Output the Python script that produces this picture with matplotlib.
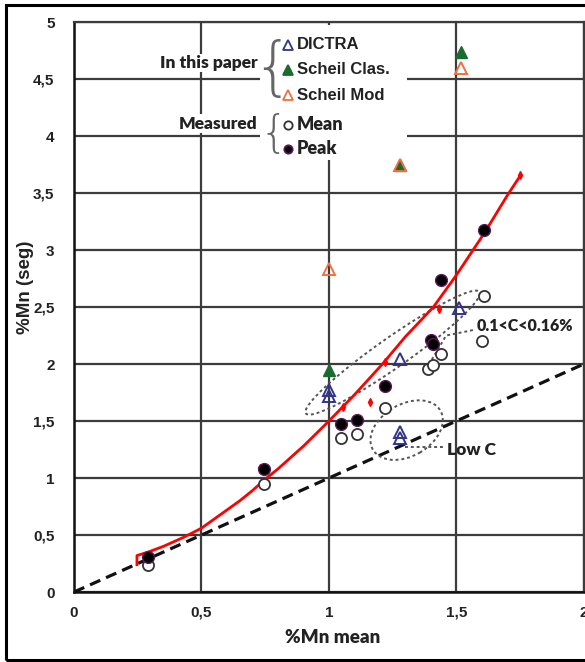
#!/usr/bin/env python3
#%%
import numpy as np
import matplotlib
matplotlib.use('Agg')
from matplotlib import pyplot as plt
from matplotlib.patches import Ellipse, Rectangle
from matplotlib.transforms import Affine2D

#%% data
dictra_x = [1.00, 1.00, 1.28, 1.28, 1.28, 1.51]
dictra_y = [1.77, 1.72, 2.04, 1.40, 1.35, 2.49]
clas_x = [1.00, 1.28, 1.52]
clas_y = [1.95, 3.75, 4.74]
mod_x = [1.00, 1.28, 1.52]
mod_y = [2.83, 3.75, 4.60]
mean_x = [0.29, 0.745, 1.047, 1.11, 1.22, 1.39, 1.41, 1.44, 1.61, 1.60]
mean_y = [0.24, 0.95, 1.35, 1.39, 1.61, 1.96, 1.99, 2.09, 2.60, 2.20]
peak_x = [0.29, 0.745, 1.047, 1.11, 1.22, 1.40, 1.41, 1.44, 1.61]
peak_y = [0.31, 1.08, 1.47, 1.51, 1.81, 2.21, 2.18, 2.74, 3.18]
fit_x = [0.247, 0.247, 0.29, 0.35, 0.43, 0.50, 0.55, 0.60, 0.65, 0.70, 0.75, 0.80, 0.90,
         1.00, 1.10, 1.21, 1.30, 1.41, 1.50, 1.61, 1.70, 1.75]
fit_y = [0.24, 0.32, 0.35, 0.40, 0.48, 0.56, 0.64, 0.72, 0.80, 0.89, 0.99, 1.08, 1.28,
         1.50, 1.73, 2.00, 2.24, 2.50, 2.78, 3.15, 3.48, 3.65]
fitpts_x = [0.73, 1.055, 1.16, 1.22, 1.43, 1.75]
fitpts_y = [1.09, 1.62, 1.67, 2.02, 2.48, 3.66]
xticks = [0, 0.5, 1, 1.5, 2]
xticklabels = ['0', '0,5', '1', '1,5', '2']
yticks = [0, 0.5, 1, 1.5, 2, 2.5, 3, 3.5, 4, 4.5, 5]
yticklabels = ['0', '0,5', '1', '1,5', '2', '2,5', '3', '3,5', '4', '4,5', '5']

plt.rcParams['font.family'] = ['Liberation Sans', 'DejaVu Sans']
nar = dict(family=['Lato', 'DejaVu Sans'], fontweight='heavy')

#%% figure
fig = plt.figure(figsize=(5.85, 6.62), dpi=100)
ax = fig.add_axes([0.1265, 0.1057, 0.8715, 0.861])
ax.set_xlim(0, 2)
ax.set_ylim(0, 5)
ax.set_axisbelow(True)
ax.grid(color='#3c3c3c', lw=1.6)
for s in ['left', 'bottom']:
    ax.spines[s].set_color('#111111')
    ax.spines[s].set_linewidth(1.8)
for s in ['top', 'right']:
    ax.spines[s].set_color('#3c3c3c')
    ax.spines[s].set_linewidth(1.6)
ax.set_xticks(xticks, xticklabels, fontsize=11, fontweight='bold', color='#222222')
ax.set_yticks(yticks, yticklabels, fontsize=11, fontweight='bold', color='#222222')
ax.tick_params(length=0, pad=10)
ax.tick_params(axis='y', pad=14)
ax.set_ylabel('%Mn (seg)', fontsize=13.5, fontweight='bold', color='#222222')
ax.yaxis.set_label_coords(-0.078, 0.535)
ax.set_xlabel('%Mn mean', fontsize=13.5, color='#222222', **nar)
ax.xaxis.set_label_coords(0.508, -0.064)

# reference line y = x
ax.plot([0, 2], [0, 2], color='#111111', lw=2.3, ls=(0, (3.5, 2)), zorder=2)

# fitted curve
ax.plot(fit_x, fit_y, color='#ff0000', lw=2.0, zorder=4)
ax.plot(fitpts_x, fitpts_y, 'd', color='#ff0000', ms=4, zorder=4)

# dotted ellipses, sizes in pixels
def pix_ellipse(cx, cy, w, h, ang):
    e = Ellipse((0, 0), w, h, angle=ang, fill=False, ls=(0, (1.5, 1.5)),
                ec='#555555', lw=1.4, zorder=3)
    e.set_transform(Affine2D().scale(1 / 255, 1 / 114).translate(cx, cy) + ax.transData)
    ax.add_patch(e)

pix_ellipse(1.25, 2.10, 212, 30, 35)
pix_ellipse(1.305, 1.42, 78, 52, 30)
ax.plot([1.38, 1.46, 1.57], [1.95, 2.25, 2.30], color='#555555', lw=1.4, ls=(0, (1.5, 1.5)), zorder=3)
ax.plot([1.30, 1.45], [1.27, 1.27], color='#555555', lw=1.4, ls=(0, (1.5, 1.5)), zorder=3)
ax.text(1.58, 2.33, '0.1<C<0.16%', fontsize=11.5,
        color='#222222', va='center', ha='left', zorder=5, **nar)
ax.text(1.465, 1.25, 'Low C', fontsize=12.5,
        color='#222222', va='center', ha='left', zorder=5, **nar)

# points
ax.plot(mean_x, mean_y, 'o', mfc='white', mec='#333333', mew=1.3, ms=8, zorder=5)
ax.plot(peak_x, peak_y, 'o', mfc='black', mec='#5a1a5a', mew=1.0, ms=8.5, zorder=5)
ax.plot(dictra_x, dictra_y, '^', mfc='none', mec='#33338a', mew=1.4, ms=9, zorder=6)
ax.plot(clas_x, clas_y, '^', mfc='#1a6b2e', mec='#1a6b2e', ms=9, zorder=6)
ax.plot(mod_x, mod_y, '^', mfc='none', mec='#f07040', mew=1.4, ms=9, zorder=6)

# legend block
ax.add_patch(Rectangle((0.73, 3.79), 0.576, 1.18, fc='white', ec='none', zorder=1))
ax.text(0.72, 4.64, 'In this paper', ha='right', va='center', fontsize=12.5,
        color='#222222', zorder=5, bbox=dict(fc='white', ec='none', pad=1), **nar)
ax.text(0.72, 4.11, 'Measured', ha='right', va='center', fontsize=12.5,
        color='#222222', zorder=5, bbox=dict(fc='white', ec='none', pad=1), **nar)
ax.text(0.777, 4.58, '{', ha='center', va='center', fontsize=46, color='#666666',
        fontweight='light', family=['DejaVu Sans'], zorder=5)
ax.text(0.785, 4.01, '{', ha='center', va='center', fontsize=32, color='#666666',
        fontweight='light', family=['DejaVu Sans'], zorder=5)
leg_rows = [
    (4.80, '^', 'none', '#33338a', 'DICTRA', False),
    (4.58, '^', '#1a6b2e', '#1a6b2e', 'Scheil Clas.', False),
    (4.36, '^', 'none', '#f07040', 'Scheil Mod', False),
    (4.10, 'o', 'white', '#333333', 'Mean', True),
    (3.89, 'o', 'black', '#5a1a5a', 'Peak', True),
]
for y, m, fc, ec, lab, is_nar in leg_rows:
    ax.plot([0.84], [y], m, mfc=fc, mec=ec, mew=1.3, ms=7 if m == '^' else 6, zorder=6)
    if is_nar:
        ax.text(0.875, y, lab, ha='left', va='center', fontsize=13,
                color='#222222', zorder=6, **nar)
    else:
        ax.text(0.875, y, lab, ha='left', va='center', fontsize=12, fontweight='bold',
                color='#222222', zorder=6)

# outer frame
fig.patches.append(Rectangle((6 / 585, 2 / 662), 1.2, 1 - 7 / 662, transform=fig.transFigure,
                             fill=False, ec='black', lw=2.2, zorder=10))

fig.savefig('out.png', dpi=100)
